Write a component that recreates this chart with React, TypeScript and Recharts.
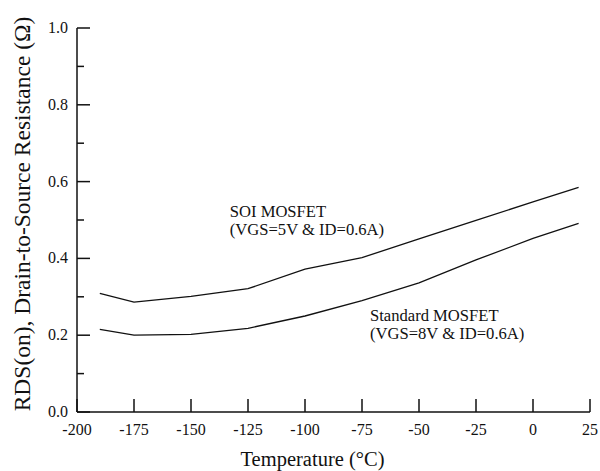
import { LineChart, Line, XAxis, YAxis, ReferenceDot, Label } from 'recharts';

const temperatures = [-190, -175, -150, -125, -100, -75, -50, -25, 0, 20];
const soiRds = [0.309, 0.286, 0.301, 0.321, 0.372, 0.402, 0.451, 0.499, 0.547, 0.585];
const standardRds = [0.215, 0.2, 0.202, 0.218, 0.25, 0.29, 0.336, 0.396, 0.452, 0.491];

const xTicks = [-200, -175, -150, -125, -100, -75, -50, -25, 0, 25];
const yTicks = [0, 0.1, 0.2, 0.3, 0.4, 0.5, 0.6, 0.7, 0.8, 0.9, 1.0];
const yLabels = ['0.0', '0.2', '0.4', '0.6', '0.8', '1.0'];

const FONT = "'Liberation Serif', 'Times New Roman', serif";
const INK = '#111';
const serif = { fontFamily: FONT };

const data = temperatures.map((t, i) => ({ t, soi: soiRds[i], std: standardRds[i] }));

// tick marks point into the plot, so both axes draw their own
function XTick({ x, y, payload }: any) {
  return (
    <g>
      <line x1={x} x2={x} y1={y} y2={y - 13} stroke={INK} strokeWidth={1.5} />
      <text x={x} y={y + 23} textAnchor="middle" style={serif} fontSize={16} fill={INK}>
        {payload.value}
      </text>
    </g>
  );
}

function YTick({ x, y, payload }: any) {
  const v = Math.round(payload.value * 10);
  const major = v % 2 === 0;
  return (
    <g>
      <line x1={x} x2={x + (major ? 13 : 7)} y1={y} y2={y} stroke={INK} strokeWidth={1.5} />
      {major && (
        <text x={x - 9} y={y + 5} textAnchor="end" style={serif} fontSize={16} fill={INK}>
          {yLabels[v / 2]}
        </text>
      )}
    </g>
  );
}

function note(lines: string[], dy: number) {
  return ({ cx, cy }: any) => (
    <g>
      {lines.map((l, i) => (
        <text key={i} x={cx} y={cy + i * dy} style={serif} fontSize={16.6} fill={INK}>
          {l}
        </text>
      ))}
    </g>
  );
}

export default function App() {
  return (
    <div style={{ position: 'absolute', left: 0, top: 0, background: '#fff' }}>
      <LineChart width={600} height={471} data={data} margin={{ top: 28, right: 10, bottom: 29, left: 17 }}>
        <XAxis
          dataKey="t"
          type="number"
          domain={[-200, 25]}
          ticks={xTicks}
          tickSize={0}
          tickMargin={0}
          height={30}
          tick={<XTick />}
          axisLine={{ stroke: INK, strokeWidth: 1.5 }}
          tickLine={false}
          interval={0}
        >
          <Label
            content={({ viewBox }: any) => (
              <text
                x={viewBox.x + viewBox.width / 2 - 21}
                y={466}
                textAnchor="middle"
                style={serif}
                fontSize={20.5}
                fill={INK}
              >
                Temperature (°C)
              </text>
            )}
          />
        </XAxis>
        <YAxis
          type="number"
          domain={[0, 1]}
          ticks={yTicks}
          tickSize={0}
          tickMargin={0}
          width={60}
          tick={<YTick />}
          axisLine={{ stroke: INK, strokeWidth: 1.5 }}
          tickLine={false}
          interval={0}
        >
          <Label
            content={({ viewBox }: any) => {
              const cy = viewBox.y + viewBox.height / 2 - 6;
              return (
                <text
                  x={30}
                  y={cy}
                  transform={`rotate(-90, 30, ${cy})`}
                  textAnchor="middle"
                  style={serif}
                  fontSize={23.5}
                  fill={INK}
                >
                  RDS(on), Drain-to-Source Resistance (Ω)
                </text>
              );
            }}
          />
        </YAxis>
        <Line dataKey="soi" stroke={INK} strokeWidth={1.3} dot={false} isAnimationActive={false} />
        <Line dataKey="std" stroke={INK} strokeWidth={1.3} dot={false} isAnimationActive={false} />
        <ReferenceDot x={-133} y={0.508} r={0} shape={note(['SOI MOSFET', '(VGS=5V & ID=0.6A)'], 18.5)} />
        <ReferenceDot x={-71.5} y={0.237} r={0} shape={note(['Standard MOSFET', '(VGS=8V & ID=0.6A)'], 18.5)} />
      </LineChart>
    </div>
  );
}
